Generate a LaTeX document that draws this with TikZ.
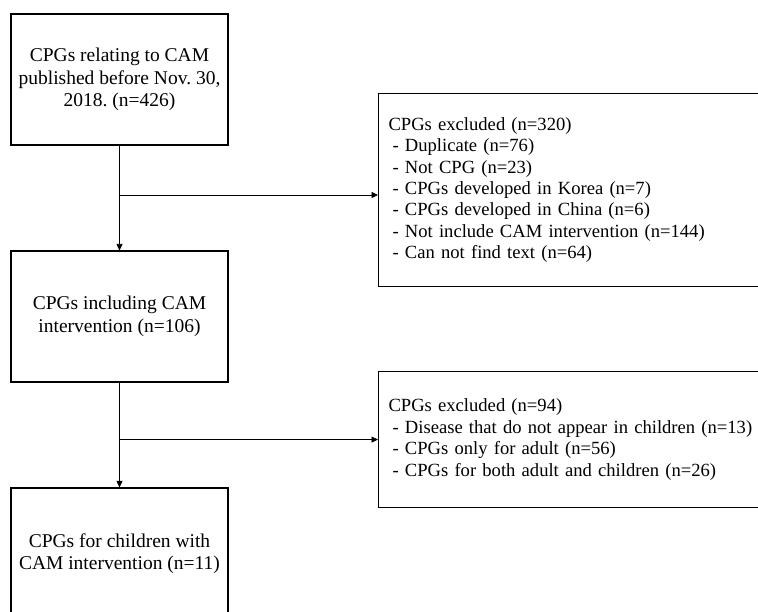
\documentclass[tikz,border=0pt]{standalone}
\usepackage{fontspec}
\setmainfont{Liberation Serif}
\usetikzlibrary{positioning, arrows.meta}
\frenchspacing

\begin{document}
\begin{tikzpicture}[x=1pt, y=1pt,
          flowbox/.style={draw, line width=1.1pt, minimum width=217pt, minimum height=131pt, inner sep=0pt, align=center, font=\fontsize{19.5}{22.5}\selectfont},
          exclbox/.style={draw, line width=1.1pt, anchor=north west, minimum width=520pt, text width=500pt, inner xsep=8.5pt, align=left, font=\fontsize{18.6}{21.4}\selectfont},
          flowarrow/.style={-{Triangle[length=6.5pt, width=6pt]}, line width=0.8pt}
        ]
          \useasboundingbox (0,0) rectangle (758,-612);
          \clip (0,0) rectangle (758,-612);

          \node[flowbox] (A) at (119.5,-79.5) {CPGs relating to CAM\\published before Nov. 30,\\2018. (n=426)};
          \node[flowbox] (B) at (119.5,-316.5) {CPGs including CAM\\intervention (n=106)};
          \node[flowbox] (C) at (119.5,-553.5) {CPGs for children with\\CAM intervention (n=11)};
          \node[exclbox, minimum height=193pt] (EA) at (378,-93) {CPGs excluded (n=320)\\
            \hspace{4pt}- Duplicate (n=76)\\
            \hspace{4pt}- Not CPG (n=23)\\
            \hspace{4pt}- CPGs developed in Korea (n=7)\\
            \hspace{4pt}- CPGs developed in China (n=6)\\
            \hspace{4pt}- Not include CAM intervention (n=144)\\
            \hspace{4pt}- Can not find text (n=64)};
          \node[exclbox, minimum height=136pt] (EB) at (378,-371) {CPGs excluded (n=94)\\
            \hspace{4pt}- Disease that do not appear in children (n=13)\\
            \hspace{4pt}- CPGs only for adult (n=56)\\
            \hspace{4pt}- CPGs for both adult and children (n=26)};

          \coordinate (SA) at (A.south |- 0,-195);
          \draw[flowarrow] (A) -- (B);
          \draw[flowarrow] (SA) -- (SA -| EA.west);
          \draw[flowarrow] (B) -- (C);
          \draw[flowarrow] (B.south |- EB.west) -- (EB.west);
        \end{tikzpicture}
\end{document}
